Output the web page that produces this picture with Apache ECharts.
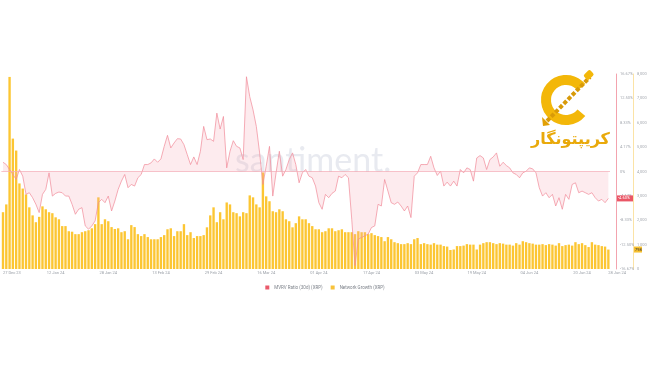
<!DOCTYPE html>
<html><head><meta charset="utf-8">
<script src="https://cdn.jsdelivr.net/npm/echarts/dist/echarts.min.js"></script>
<style>html,body{margin:0;padding:0;background:#fff;}#c{width:650px;height:365px;}</style>
</head><body><div id="c"></div>
<script>
// ---- data ----
const startYear = 2023, startMonth = 11, startDay = 27; // 27 Dec 23
const monthNames = ['Jan','Feb','Mar','Apr','May','Jun','Jul','Aug','Sep','Oct','Nov','Dec'];
const mvrvName = 'MVRV Ratio (30d) (XRP)';
const growthName = 'Network Growth (XRP)';

const mvrv = [
  1.58, 1.19, 0.34, -0.51, -1.36, 0.34, -0.8, -3.91, -3.63, -4.48,
  -5.61, -7.03, -3.91, -3.06, -0.23, -4.2, -3.74, -3.51, -3.63, -4.2,
  -4.2, -5.61, -7.31, -6.46, -6.18, -9.3, -9.86, -9.3, -8.45, -5.33,
  -4.76, -5.33, -4.2, -6.75, -5.05, -3.06, -1.65, -0.51, -2.77, -2.21,
  -2.49, -1.07, -0.51, 1.19, 1.19, 1.47, 2.15, 1.58,
  2.15, 4.3, 6.18, 4.03, 4.88, 5.61, 5.56, 4.59, 2.89, 1.19,
  2.49, 1.19, 3.46, 7.71, 5.44, 5.56, 5.16, 9.98, 7.26, 9.41,
  0.62, 3.46, 5.27, 4.3, 4.03, 2.04, 16.2, 12.8, 10.54, 7.71,
  3.18, -2.21, 0.9, 4.3, -4.2, -0.23, 3.46, -0.8, 0.34, 2.04,
  3.18, 1.19, -1.93, -0.23, 0.34, -0.8, -1.07, -2.49, -5.33,
  -6.46, -3.91, -4.48, -3.74, -3.35, -0.8, -1.07, -0.51, -1.07, -8.16,
  -16.1, -11.56, -11.28, -11.0, -10.7, -9.58, -9.3, -5.61, -5.9, -1.36,
  -3.35, -5.33, -5.61, -5.22, -5.9, -6.75, -5.9, -7.88, -0.8, -0.23,
  1.19, 1.19, 1.19, 2.6, 0.62, -0.68, 0.05, -2.49, -1.82, -2.49,
  -1.65, -2.49, 0.34, -0.23, 0.62, 0.34, -1.65, 2.32,
  2.72, 2.32, 0.34, 2.04, 2.49, 3.18, 0.9, 1.58, 1.02, 0.62,
  -0.23, -0.51, -1.07, -0.23, 0.05, 0.62, 0.45, -0.23, -2.77, -4.2,
  -3.63, -4.48, -3.91, -5.9, -4.48, -6.46, -3.91, -4.76, -2.21, -1.93,
  -3.63, -3.35, -3.63, -3.91, -3.63, -4.48, -5.05, -4.76, -5.33, -4.6
];

const growth = [
  2330, 2650, 7880, 5350, 4860, 3510, 3300, 3060, 2530, 2200,
  1920, 2140, 2570, 2450, 2330, 2290, 2120, 2040, 1760, 1760,
  1550, 1530, 1430, 1430, 1510, 1550, 1590, 1670, 1840, 2940,
  1840, 2040, 1960, 1720, 1640, 1670, 1510, 1550, 1220, 1800,
  1720, 1430, 1350, 1430, 1310, 1220, 1220, 1220, 1310,
  1390, 1630, 1670, 1350, 1550, 1550, 1840, 1390, 1510, 1270,
  1350, 1350, 1390, 1710, 2200, 2530, 1920, 2330, 2040, 2730,
  2650, 2330, 2290, 2160, 2330, 2290, 3020, 2940, 2650, 2530,
  3960, 2980, 2780, 2370, 2330, 2450, 2370, 2040, 1960, 1710,
  1880, 2160, 2040, 2040, 1880, 1760, 1630, 1630,
  1510, 1550, 1670, 1670, 1550, 1590, 1630, 1510, 1510, 1510,
  1430, 1550, 1510, 1510, 1430, 1470, 1390, 1350, 1310, 1140,
  1310, 1220, 1100, 1060, 1020, 1020, 1060, 1020, 1220, 1270,
  1020, 1060, 1020, 1000, 1060, 1000, 1000, 940, 920, 780,
  800, 940, 940, 960, 1020, 1000, 1000, 800,
  1000, 1060, 1100, 1100, 1060, 1020, 1060, 1040, 1000, 1000,
  960, 1060, 1000, 1140, 1100, 1060, 1040, 1000, 1000, 1020,
  980, 1020, 1000, 960, 1060, 940, 980, 1000, 960, 1100,
  1020, 1060, 980, 900, 1100, 1000, 980, 940, 920, 798
];

const mvrvMin = -16.668, mvrvMax = 16.668, mvrvStep = 4.167;
const growthMin = 0, growthMax = 8000, growthStep = 1000;

// ---- categories (daily dates) ----
const categories = [];
for (let i = 0; i < mvrv.length; i++) {
  const d = new Date(Date.UTC(startYear, startMonth, startDay + i));
  categories.push(String(d.getUTCDate()).padStart(2, '0') + ' ' + monthNames[d.getUTCMonth()] + ' ' + String(d.getUTCFullYear()).slice(2));
}

const chart = echarts.init(document.getElementById('c'), null, {renderer: 'canvas'});
const last = mvrv.length - 1;

chart.setOption({
  animation: false,
  backgroundColor: '#ffffff',
  grid: {left: 0, right: 40, top: 74, bottom: 96, containLabel: false},
  legend: {
    top: 280, left: 'center', icon: 'rect', itemWidth: 4, itemHeight: 4, itemGap: 8,
    textStyle: {fontSize: 4.5, color: '#7d828a', fontFamily: 'Roboto'},
    data: [{name: mvrvName, itemStyle: {color: '#ea5a6b'}}, {name: growthName, itemStyle: {color: '#f8c23a'}}]
  },
  xAxis: {
    type: 'category', data: categories, boundaryGap: true,
    axisLine: {show: false}, axisTick: {show: false},
    axisLabel: {
      fontSize: 4, color: '#9ba0a8', margin: 2, fontFamily: 'Roboto',
      interval: (i) => i % 16 === 0 || i === last,
      alignMinLabel: 'left', alignMaxLabel: 'left', hideOverlap: false
    }
  },
  yAxis: [
    {
      type: 'value', position: 'right', offset: 6,
      min: mvrvMin, max: mvrvMax, interval: mvrvStep,
      axisLine: {show: true, lineStyle: {color: '#f3a3ae', width: 1}},
      axisTick: {show: false}, splitLine: {show: false},
      axisLabel: {fontSize: 4, color: '#a5a9b0', margin: 4, fontFamily: 'Roboto',
        formatter: (v) => Math.abs(v) < 1e-6 ? '0%' : v.toFixed(2) + '%'}
    },
    {
      type: 'value', position: 'right', offset: 23,
      min: growthMin, max: growthMax, interval: growthStep,
      axisLine: {show: true, lineStyle: {color: '#fbe3a6', width: 1}},
      axisTick: {show: false}, splitLine: {show: false},
      axisLabel: {fontSize: 4, color: '#a5a9b0', margin: 4, fontFamily: 'Roboto'}
    }
  ],
  series: [
    {
      name: growthName, type: 'bar', yAxisIndex: 1, data: growth,
      barCategoryGap: '28%', itemStyle: {color: '#fcc633'}, z: 2
    },
    {
      name: mvrvName, type: 'line', yAxisIndex: 0, data: mvrv,
      symbol: 'none', smooth: false, z: 3,
      lineStyle: {color: '#f08a98', width: 0.7},
      areaStyle: {color: 'rgba(248,170,182,0.34)', origin: 0},
      markLine: {
        silent: true, symbol: ['none', 'none'], label: {show: false},
        lineStyle: {color: '#f4aab5', width: 0.7, type: 'solid'},
        data: [{yAxis: 0}]
      }
    }
  ]
});

// badges for last values, positioned through the axes' own scales
const yM = chart.convertToPixel({yAxisIndex: 0}, mvrv[last]);
const yG = chart.convertToPixel({yAxisIndex: 1}, growth[last]);
const axisRight = chart.getWidth() - 40;

chart.setOption({
  graphic: [
    {type: 'text', left: 235, top: 144, z: 1, silent: true,
     style: {text: 'santiment.', fontSize: 34, fontFamily: 'Lato', fontWeight: 'normal', fill: 'rgba(200,205,220,0.42)'}},
    // logo
    {type: 'arc', shape: {cx: 566, cy: 100, r: 20, startAngle: Math.PI * 0.22, endAngle: Math.PI * 1.78}, z: 10,
     style: {stroke: '#f3b709', lineWidth: 10, fill: null, lineCap: 'butt'}},
    {type: 'line', shape: {x1: 547, y1: 121, x2: 590, y2: 77}, z: 11,
     style: {stroke: '#d89a08', lineWidth: 4, lineDash: [4, 2]}},
    {type: 'polygon', shape: {points: [[542, 117], [550, 125], [543, 126]]}, z: 11, style: {fill: '#e2a004'}},
    {type: 'rect', shape: {x: 584, y: 72, width: 9, height: 7, r: 2}, rotation: Math.PI / 4, originX: 588, originY: 75, z: 11,
     style: {fill: '#f3b709'}},
    {type: 'text', left: 531, top: 132, z: 12,
     style: {text: 'کریپتونگار', fontSize: 16, fontFamily: 'DejaVu Sans', fontWeight: 'bold', fill: '#e9a90a'}},
    // last value badges
    {type: 'rect', shape: {x: axisRight + 7, y: yM - 3, width: 16, height: 6}, z: 20, style: {fill: '#ea5666'}},
    {type: 'text', x: axisRight + 8, y: yM, z: 21,
     style: {text: mvrv[last].toFixed(2) + '%', fontSize: 4, fill: '#fff', verticalAlign: 'middle', fontFamily: 'Roboto'}},
    {type: 'rect', shape: {x: axisRight + 24, y: yG - 3, width: 8, height: 6}, z: 20, style: {fill: '#f7c02f'}},
    {type: 'text', x: axisRight + 25, y: yG, z: 21,
     style: {text: String(growth[last]), fontSize: 4, fill: '#333', verticalAlign: 'middle', fontFamily: 'Roboto'}}
  ]
});
</script>
</body></html>
